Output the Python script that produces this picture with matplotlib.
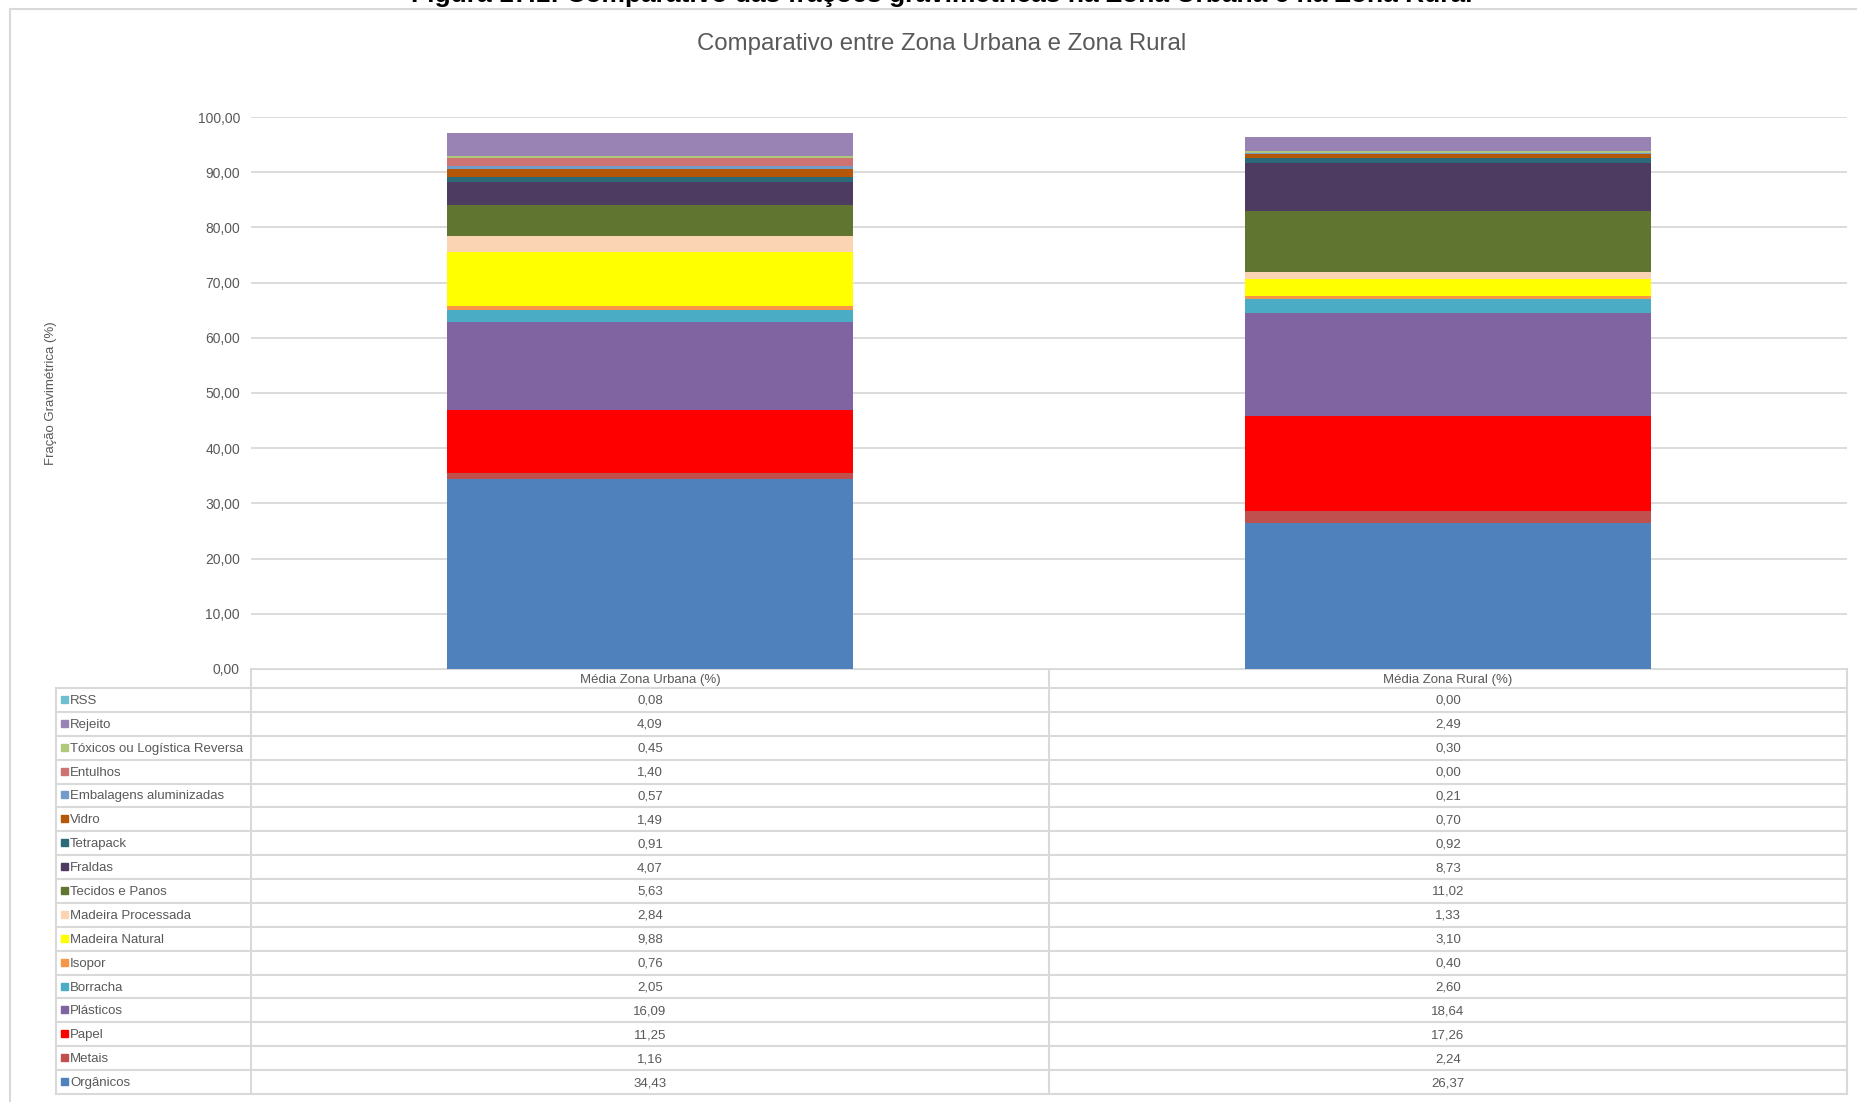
import matplotlib
matplotlib.use("Agg")
import matplotlib.pyplot as plt

plt.rcParams['font.family'] = ['Liberation Sans', 'DejaVu Sans']

# dados (de baixo para cima na pilha)
categorias = ["Orgânicos", "Metais", "Papel", "Plásticos", "Borracha", "Isopor",
              "Madeira Natural", "Madeira Processada", "Tecidos e Panos", "Fraldas",
              "Tetrapack", "Vidro", "Embalagens aluminizadas", "Entulhos",
              "Tóxicos ou Logística Reversa", "Rejeito", "RSS"]
urbana = [34.43, 1.16, 11.25, 16.09, 2.05, 0.76, 9.88, 2.84, 5.63, 4.07,
          0.91, 1.49, 0.57, 1.40, 0.45, 4.09, 0.08]
rural = [26.37, 2.24, 17.26, 18.64, 2.60, 0.40, 3.10, 1.33, 11.02, 8.73,
         0.92, 0.70, 0.21, 0.00, 0.30, 2.49, 0.00]
cores = ["#4F81BD", "#C0504D", "#FF0000", "#8064A2", "#4BACC6", "#F79646",
         "#FFFF00", "#FBD4B4", "#5F7530", "#4D3B62", "#2C6A7A", "#B65708",
         "#729ACA", "#CD7371", "#AFC97A", "#9983B5", "#6FBDD1"]
colunas = ["Média Zona Urbana (%)", "Média Zona Rural (%)"]

W, H = 1858, 1102
cinza = "#D9D9D9"
texto = "#595959"

fig = plt.figure(figsize=(W / 100, H / 100), dpi=100)

# camada de fundo em pixels (moldura e tabela)
bg = fig.add_axes([0, 0, 1, 1])
bg.set_xlim(0, W)
bg.set_ylim(H, 0)
bg.axis("off")

# moldura do gráfico
bg.plot([10, 10], [9, H + 5], color=cinza, lw=1.5)
bg.plot([10, W + 5], [9, 9], color=cinza, lw=1.5)

# legenda da figura, cortada no topo como no original
fig.text(942 / W, 1 - 2 / H, "Figura 17.1: Comparativo das frações gravimétricas na Zona Urbana e na Zona Rural",
         ha="center", va="baseline", fontsize=19, fontweight="bold", color="black")

# área do gráfico
left, right, top, bottom = 251, 1847, 117, 669
ax = fig.add_axes([left / W, 1 - bottom / H, (right - left) / W, (bottom - top) / H])
ax.set_xlim(-0.5, 1.5)
ax.set_ylim(0, 100)
ax.set_yticks(range(0, 101, 10))
ax.set_yticklabels([f"{v},00" for v in range(0, 101, 10)], color=texto, fontsize=10)
ax.tick_params(axis="y", length=0, pad=8)
ax.set_xticks([])
for s in ax.spines.values():
    s.set_visible(False)
ax.grid(axis="y", color=cinza, lw=1.3)
ax.set_axisbelow(True)

base_u, base_r = 0.0, 0.0
for cat, u, r, c in zip(categorias, urbana, rural, cores):
    ax.bar([0, 1], [u, r], bottom=[base_u, base_r], width=0.51, color=c, label=cat)
    base_u += u
    base_r += r

fig.text(942 / W, 1 - 44 / H, "Comparativo entre Zona Urbana e Zona Rural",
         ha="center", va="center", fontsize=17.3, color=texto)
fig.text(51 / W, 1 - 393 / H, "Fração Gravimétrica (%)", rotation=90,
         ha="center", va="center", fontsize=9.5, color=texto)

# tabela de dados
leg_l = 56
col_x = [left, (left + right) / 2, right]
head_b = 688
nrows = len(categorias)
row_h = (1094 - head_b) / nrows
tab_b = head_b + nrows * row_h

# linhas horizontais
bg.plot([left, right], [bottom, bottom], color=cinza, lw=1.5)
for i in range(nrows + 1):
    y = head_b + i * row_h
    bg.plot([leg_l, right], [y, y], color=cinza, lw=1.5)
# linhas verticais
bg.plot([leg_l, leg_l], [head_b, tab_b], color=cinza, lw=1.5)
for x in col_x:
    bg.plot([x, x], [bottom, tab_b], color=cinza, lw=1.5)

for j, nome in enumerate(colunas):
    bg.text((col_x[j] + col_x[j + 1]) / 2, (bottom + head_b) / 2 + 1, nome,
            ha="center", va="center", fontsize=9.5, color=texto)

ordem = list(range(nrows))[::-1]
for i, k in enumerate(ordem):
    yc = head_b + (i + 0.5) * row_h
    bg.add_patch(plt.Rectangle((61, yc - 4), 7, 7, color=cores[k]))
    bg.text(70, yc + 1, categorias[k], ha="left", va="center", fontsize=9.5, color=texto)
    for j, serie in enumerate([urbana, rural]):
        bg.text((col_x[j] + col_x[j + 1]) / 2, yc + 1, f"{serie[k]:.2f}".replace(".", ","),
                ha="center", va="center", fontsize=9.5, color=texto)

fig.savefig("out.png", dpi=100)
